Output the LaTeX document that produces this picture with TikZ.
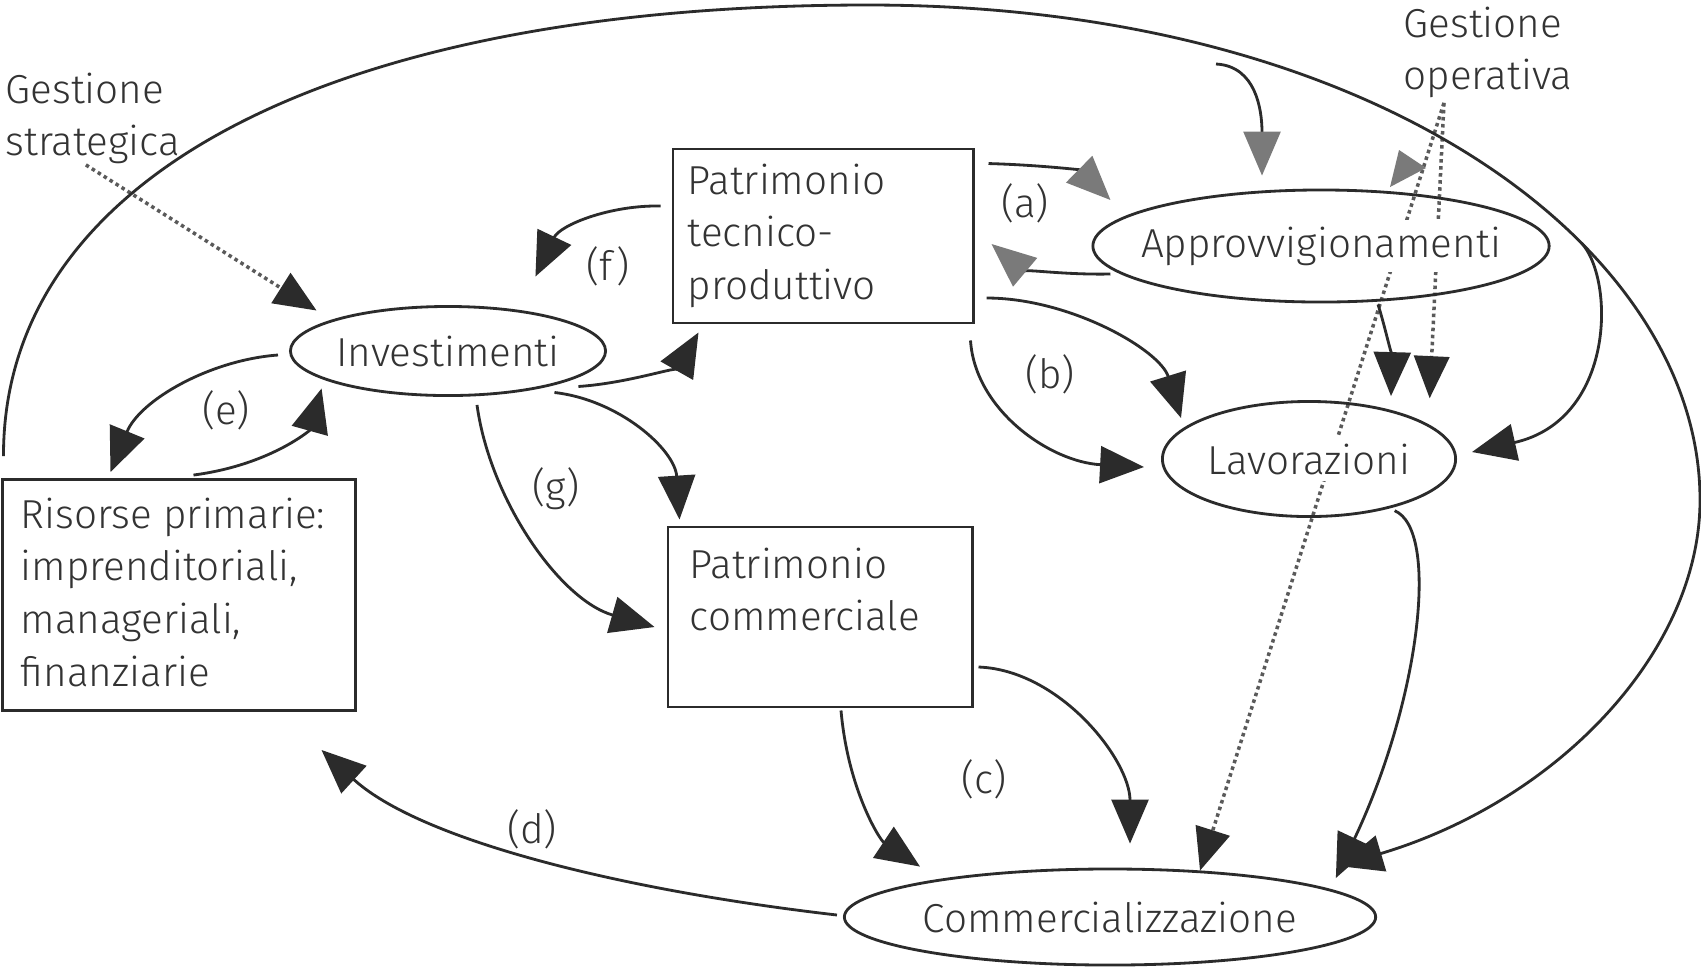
\documentclass[tikz,border=0pt]{standalone}
\usepackage{fontspec}
\setmainfont{Fira Sans Light}
\usetikzlibrary{arrows.meta,shapes.geometric,calc}
\definecolor{ink}{HTML}{2B2B2B}
\definecolor{txtc}{HTML}{333333}
\definecolor{tipgrey}{HTML}{7A7A7A}
\definecolor{dotc}{HTML}{5A5A5A}
\pgfdeclarelayer{bg}
\pgfdeclarelayer{dots}
\pgfsetlayers{bg,dots,main}
\setlength{\fboxsep}{2pt}
\newcommand{\zw}[1]{\makebox[0pt][c]{\colorbox{white}{#1}}}
\begin{document}
\begin{tikzpicture}[x=0.01cm,y=-0.01cm,
  font=\fontsize{11.5}{15}\selectfont,
  txt/.style={text=txtc, inner sep=0pt},
  ell/.style={ellipse, draw=ink, line width=0.8pt, inner sep=0pt, text=txtc},
  box/.style={rectangle, draw=ink, line width=0.8pt, inner sep=0pt},
  conn/.style={draw=ink, line width=0.8pt, -{Triangle[length=12.5pt,width=10.5pt]}},
  gconn/.style={draw=ink, line width=0.8pt, -{Triangle[length=12.5pt,width=10.5pt,color=tipgrey]}},
  dotconn/.style={draw=dotc, line width=1pt, densely dotted, -{Triangle[length=12pt,width=10pt,color=ink]}}
]
\begin{pgfonlayer}{bg}
\fill[white] (0,0) rectangle (1701,966);
\end{pgfonlayer}
\useasboundingbox (0,0) rectangle (1701,966);

% nodes
\node[box, minimum width=3.00cm, minimum height=1.74cm] (ptp) at (823,236) {};
\node[txt, anchor=north west, align=left] (ptpT) at (687,163) {Patrimonio\\tecnico-\\produttivo};
\node[box, minimum width=3.52cm, minimum height=2.31cm] (ris) at (179,595) {};
\node[txt, anchor=north west, align=left] (risT) at (20,497) {Risorse primarie:\\imprenditoriali,\\manageriali,\\finanziarie};
\node[box, minimum width=3.04cm, minimum height=1.80cm] (pcom) at (820,617) {};
\node[txt, anchor=north west, align=left] (pcomT) at (689,547) {Patrimonio\\commerciale};

\node[ell, minimum width=4.56cm, minimum height=1.12cm] (app) at (1321,246) {\zw{Approvvigionamenti}};
\node[ell, minimum width=3.15cm, minimum height=0.89cm] (inv) at (448,351) {\zw{Investimenti}};
\node[ell, minimum width=2.93cm, minimum height=1.15cm] (lav) at (1309,459) {\zw{Lavorazioni}};
\node[ell, minimum width=5.31cm, minimum height=0.96cm] (com) at (1110,917) {\zw{Commercializzazione}};

\node[txt, anchor=north west, align=left] (gs) at (5,72) {Gestione\\strategica};
\node[txt, anchor=north west, align=left] (go) at (1403,6) {Gestione\\operativa};

% labels
\node[txt] (la) at (1025,203) {(a)};
\node[txt] (lf) at (608,266) {(f)};
\node[txt] (le) at (226,410) {(e)};
\node[txt] (lb) at (1050,374) {(b)};
\node[txt] (lg) at (556,489) {(g)};
\node[txt] (lc) at (984,779) {(c)};
\node[txt] (ld) at (532,829) {(d)};

% outer loop
\draw[conn] ($(ris.north west)+(2,-22)$) .. controls (3,176) and (332,5) .. (868,5)
   .. controls (1380,5) and (1700,250) .. (1700,500)
   .. controls (1700,650) and (1560,800) .. ($(com.north east)+(40,-16)$);

% (a)
\draw[gconn] ($(ptp.north east)+(14,16)$) .. controls (1040,165) and (1080,170) .. ($(app.west)+(19,-46)$);
\draw[gconn] ($(app.west)+(19,28)$) .. controls (1060,275) and (1020,268) .. ($(ptp.east)+(17,8)$);
% (b)
\draw[conn] ($(ptp.east)+(12,62)$) .. controls (1070,298) and (1160,350) .. ($(lav.west)+(20,-41)$);
\draw[conn] ($(ptp.south east)+(-4,16)$) .. controls (975,410) and (1050,462) .. ($(lav.west)+(-17,8)$);
% (f)
\draw[conn] ($(ptp.west)+(-11,-30)$) .. controls (610,205) and (560,225) .. ($(inv.north east)+(-25,-42)$);
\draw[conn] ($(inv.south east)+(18,3)$) .. controls (630,383) and (680,365) .. ($(ptp.south west)+(27,8)$);
% (e)
\draw[conn] ($(inv.west)+(-11,4)$) .. controls (210,360) and (140,400) .. ($(ris.north west)+(109,-6)$);
\draw[conn] ($(ris.north west)+(192,-3)$) .. controls (270,465) and (310,430) .. ($(inv.south west)+(-14,5)$);
% (g)
\draw[conn] ($(inv.south)+(29,8)$) .. controls (490,500) and (560,600) .. ($(pcom.west)+(-12,10)$);
\draw[conn] ($(inv.south east)+(-6,9)$) .. controls (620,400) and (675,450) .. ($(pcom.north west)+(13,-6)$);
% (c)
\draw[conn] ($(pcom.east)+(5,50)$) .. controls (1060,670) and (1130,760) .. ($(com.north)+(20,-24)$);
\draw[conn] ($(pcom.south)+(21,2)$) .. controls (848,790) and (880,840) .. ($(com.north)+(-190,-1)$);
% (d)
\draw[conn] ($(com.west)+(-6,-2)$) .. controls (620,890) and (420,840) .. ($(ris.south east)+(-35,38)$);

% right side
\coordinate (opin) at (1216,64);
\draw[gconn] (opin) .. controls (1256,66) and (1262,110) .. ($(app.north)+(-59,-13)$);
\draw[conn] ($(app.south)+(57,1)$) .. controls (1386,330) and (1392,360) .. ($(lav.north)+(82,-4)$);
\draw[conn] ($(app.east)+(31,-3)$) .. controls (1615,280) and (1615,420) .. ($(lav.east)+(15,-7)$);
\draw[conn] ($(lav.south east)+(-19,10)$) .. controls (1440,530) and (1420,700) .. ($(com.north east)+(37,-4)$);

% dotted management lines (behind the ellipses)
\begin{pgfonlayer}{dots}
\draw[dotconn] ($(go.south)+(-44,4)$) -- ($(com.north)+(90,3)$);
\draw[dotconn] ($(go.south)+(-44,4)$) -- ($(lav.north east)+(16,-19)$);
\draw[dotconn] ($(gs.south)+(-7,0)$) -- ($(inv.north west)+(-19,-8)$);
\end{pgfonlayer}
\fill[tipgrey] (1390,187) -- (1399,150) -- (1426,168) -- cycle;
\end{tikzpicture}
\end{document}
